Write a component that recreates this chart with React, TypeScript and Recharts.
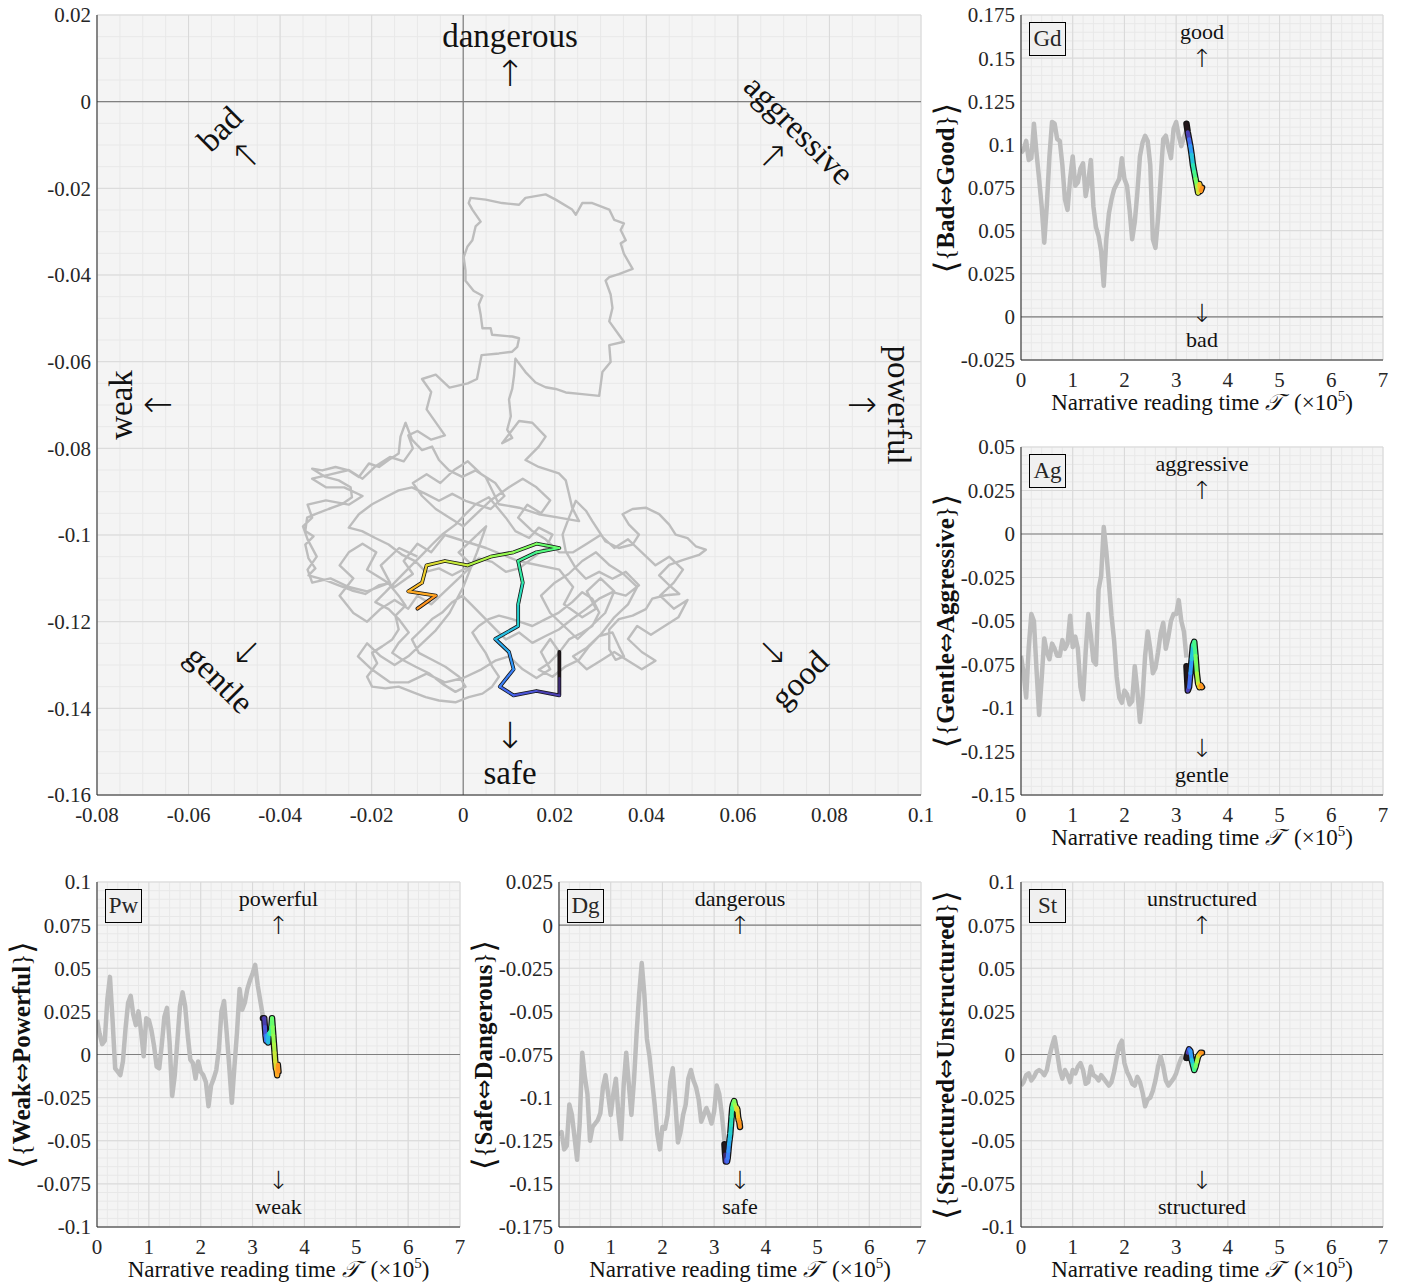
import React from "react";
import {
  LineChart,
  Line,
  XAxis,
  YAxis,
  CartesianGrid,
  ReferenceLine,
} from "recharts";

const FONT = '"Liberation Serif", "Times New Roman", "DejaVu Serif", serif';
const SYM = '"DejaVu Sans", "DejaVu Serif", sans-serif';
const INK = "#262626";
const GRAY = "#bdbdbd";

// narrative time sampling (x10^5)
const GRAY_STEP = 0.05;
const COLOR_SPAN: [number, number] = [3.2, 3.5];

// <Bad <=> Good>
const GD_GRAY = [
  0.095, 0.097, 0.102, 0.091, 0.092, 0.112, 0.095, 0.08, 0.064, 0.043,
  0.065, 0.093, 0.113, 0.112, 0.103, 0.102, 0.088, 0.068, 0.062, 0.08,
  0.093, 0.076, 0.078, 0.086, 0.089, 0.07, 0.078, 0.091, 0.064, 0.052,
  0.047, 0.038, 0.018, 0.045, 0.06, 0.068, 0.074, 0.077, 0.08, 0.092,
  0.08, 0.076, 0.062, 0.045, 0.055, 0.072, 0.093, 0.101, 0.105, 0.102,
  0.088, 0.045, 0.04, 0.057, 0.08, 0.103, 0.105, 0.098, 0.092, 0.109,
  0.113, 0.105, 0.099, 0.104, 0.108,
];
const GD_COLOR = [0.112, 0.107, 0.103, 0.099, 0.094, 0.088, 0.084, 0.08, 0.076, 0.072, 0.077, 0.073, 0.075];

// <Gentle <=> Aggressive>
const AG_GRAY = [
  -0.07, -0.08, -0.094, -0.065, -0.046, -0.05, -0.078, -0.104, -0.083, -0.06,
  -0.068, -0.072, -0.063, -0.066, -0.07, -0.07, -0.061, -0.066, -0.063, -0.047,
  -0.065, -0.059, -0.066, -0.088, -0.095, -0.068, -0.046, -0.058, -0.073, -0.075,
  -0.032, -0.024, 0.004, -0.01, -0.028, -0.047, -0.061, -0.082, -0.094, -0.097,
  -0.09, -0.092, -0.098, -0.096, -0.076, -0.09, -0.108, -0.094, -0.07, -0.056,
  -0.066, -0.08, -0.077, -0.068, -0.057, -0.051, -0.066, -0.059, -0.05, -0.046,
  -0.046, -0.038, -0.05, -0.056, -0.071,
];
const AG_COLOR = [-0.076, -0.09, -0.088, -0.08, -0.072, -0.064, -0.062, -0.07, -0.08, -0.086, -0.088, -0.087, -0.088];

// <Weak <=> Powerful>
const PW_GRAY = [
  0.02, 0.012, 0.006, 0.008, 0.032, 0.045, 0.02, -0.008, -0.01, -0.012,
  -0.004, 0.015, 0.03, 0.034, 0.023, 0.017, 0.025, 0.013, -0.001, 0.021,
  0.02, 0.014, 0.005, -0.007, -0.008, 0.006, 0.022, 0.027, 0.007, -0.024,
  -0.012, 0.008, 0.028, 0.036, 0.028, 0.011, -0.003, -0.005, -0.014, -0.004,
  -0.01, -0.012, -0.016, -0.03, -0.018, -0.014, -0.009, 0.003, 0.025, 0.031,
  0.013, -0.007, -0.028, -0.007, 0.013, 0.038, 0.026, 0.03, 0.038, 0.043,
  0.047, 0.052, 0.04, 0.031, 0.022,
];
const PW_COLOR = [
  0.021, 0.021, 0.021, 0.016, 0.011, 0.008, 0.011, 0.01, 0.007, 0.012, 0.012, 0.013, 0.012,
  0.016, 0.021, 0.016, 0.011, 0.006, 0.001, -0.004, -0.008, -0.009, -0.012, -0.006, -0.01,
];

// <Safe <=> Dangerous>
const DG_GRAY = [
  -0.122, -0.12, -0.13, -0.128, -0.104, -0.11, -0.123, -0.136, -0.115, -0.074,
  -0.088, -0.098, -0.125, -0.117, -0.115, -0.113, -0.109, -0.094, -0.087, -0.098,
  -0.11, -0.098, -0.089, -0.11, -0.124, -0.093, -0.074, -0.092, -0.11, -0.09,
  -0.063, -0.04, -0.022, -0.04, -0.066, -0.076, -0.09, -0.104, -0.121, -0.13,
  -0.117, -0.118, -0.11, -0.091, -0.083, -0.103, -0.126, -0.12, -0.11, -0.104,
  -0.089, -0.084, -0.09, -0.094, -0.101, -0.114, -0.11, -0.106, -0.11, -0.115,
  -0.108, -0.093, -0.098, -0.11, -0.125,
];
const DG_COLOR = [
  -0.127, -0.133, -0.137, -0.136, -0.137, -0.135, -0.131, -0.127, -0.124, -0.121, -0.116, -0.111, -0.106,
  -0.104, -0.103, -0.102, -0.104, -0.105, -0.107, -0.106, -0.107, -0.111, -0.113, -0.114, -0.117,
];

// <Structured <=> Unstructured>
const ST_GRAY = [
  -0.018, -0.016, -0.012, -0.011, -0.015, -0.013, -0.01, -0.009, -0.01, -0.012,
  -0.009, -0.001, 0.005, 0.01, 0.001, -0.009, -0.014, -0.009, -0.012, -0.016,
  -0.009, -0.011, -0.007, -0.005, -0.009, -0.017, -0.016, -0.007, -0.012, -0.013,
  -0.015, -0.012, -0.014, -0.016, -0.018, -0.016, -0.01, -0.002, 0.005, 0.008,
  -0.005, -0.01, -0.013, -0.017, -0.018, -0.013, -0.016, -0.022, -0.03, -0.026,
  -0.025, -0.021, -0.015, -0.007, -0.001, -0.007, -0.015, -0.018, -0.016, -0.014,
  -0.011, -0.006, -0.002, -0.001, -0.001,
];
const ST_COLOR = [-0.002, 0.001, 0.003, 0.002, -0.003, -0.006, -0.009, -0.007, -0.004, -0.001, 0, 0.001, 0.001];

// trajectory in the (Weak<=>Powerful, Safe<=>Dangerous) plane
const TRAJ: [number, number][] = [
  [-0.01, -0.105], [-0.014, -0.103], [-0.018, -0.107], [-0.016, -0.111], [-0.021, -0.113], [-0.025, -0.112],
  [-0.029, -0.11], [-0.033, -0.111], [-0.034, -0.108], [-0.032, -0.105], [-0.034, -0.101], [-0.035, -0.098],
  [-0.033, -0.096], [-0.034, -0.093], [-0.03, -0.092], [-0.025, -0.093], [-0.022, -0.091], [-0.026, -0.089],
  [-0.03, -0.089], [-0.033, -0.087], [-0.029, -0.086], [-0.025, -0.085], [-0.022, -0.087], [-0.019, -0.084],
  [-0.016, -0.082], [-0.013, -0.083], [-0.011, -0.08], [-0.012, -0.077], [-0.01, -0.076], [-0.007, -0.078],
  [-0.004, -0.077], [-0.006, -0.074], [-0.008, -0.071], [-0.007, -0.067], [-0.009, -0.064], [-0.006, -0.063],
  [-0.003, -0.066], [0.001, -0.065], [0.003, -0.064], [0.004, -0.0585], [0.0078, -0.0581], [0.0107, -0.0577],
  [0.0118, -0.0566], [0.0122, -0.0546], [0.0107, -0.0542], [0.0063, -0.0538], [0.006, -0.0523], [0.0042, -0.0523],
  [0.0038, -0.0491], [0.0034, -0.0468], [0.0042, -0.0448], [0.0023, -0.0437], [0.0005, -0.0413], [0.0005, -0.039],
  [0.0001, -0.0359], [0.0009, -0.0335], [0.002, -0.032], [0.0027, -0.0288], [0.0038, -0.0277], [0.002, -0.0249],
  [0.0012, -0.0234], [0.0016, -0.0222], [0.0049, -0.0226], [0.0085, -0.0234], [0.0122, -0.0238], [0.0136, -0.0222],
  [0.018, -0.0214], [0.0202, -0.0226], [0.0238, -0.0249], [0.0246, -0.0261], [0.026, -0.0234], [0.0282, -0.0234],
  [0.0319, -0.0249], [0.033, -0.0273], [0.0351, -0.0281], [0.0344, -0.0296], [0.0355, -0.032], [0.0344, -0.0327],
  [0.0351, -0.0351], [0.037, -0.0386], [0.034, -0.0398], [0.0319, -0.0405], [0.0311, -0.0413], [0.0322, -0.0445],
  [0.0326, -0.0476], [0.0319, -0.0507], [0.034, -0.0538], [0.0351, -0.0554], [0.0319, -0.0562], [0.0322, -0.0601],
  [0.0304, -0.0624], [0.0297, -0.0679], [0.026, -0.0675], [0.0224, -0.0671], [0.0202, -0.0663], [0.018, -0.0659],
  [0.0158, -0.0648], [0.0136, -0.0624], [0.0114, -0.0593], [0.0111, -0.0632], [0.0107, -0.0663], [0.01, -0.0687],
  [0.0104, -0.0726], [0.0096, -0.0757], [0.0107, -0.0776], [0.0085, -0.0788], [0.0122, -0.0737], [0.0151, -0.0741],
  [0.018, -0.0773], [0.0165, -0.0796], [0.0136, -0.0827], [0.0165, -0.0843], [0.0209, -0.0858], [0.0224, -0.0874],
  [0.0231, -0.0905], [0.0238, -0.0937], [0.0253, -0.0968], [0.0209, -0.096], [0.0165, -0.0952], [0.0122, -0.0937],
  [0.0078, -0.0929], [0.0049, -0.0866], [0.0027, -0.0851], [-0.0002, -0.0866], [-0.0031, -0.0851], [-0.0053, -0.0827],
  [-0.0068, -0.0796], [-0.009, -0.0804], [-0.0112, -0.078], [-0.0126, -0.0741], [-0.0137, -0.0773], [-0.0141, -0.0812],
  [-0.0163, -0.0827], [-0.0184, -0.0843], [-0.0206, -0.0835], [-0.0228, -0.0866], [-0.025, -0.0851], [-0.0279, -0.0843],
  [-0.0308, -0.0851], [-0.033, -0.0847], [-0.0301, -0.0866], [-0.0272, -0.0874], [-0.0246, -0.089], [-0.0243, -0.0913],
  [-0.0265, -0.0929], [-0.0294, -0.094], [-0.0323, -0.0952], [-0.0341, -0.096], [-0.0345, -0.0991], [-0.0327, -0.1003],
  [-0.0345, -0.1022], [-0.0338, -0.1054], [-0.0323, -0.1077], [-0.0338, -0.1093], [-0.0301, -0.1104], [-0.0272, -0.1116],
  [-0.0243, -0.1128], [-0.0214, -0.1136], [-0.0184, -0.1116], [-0.0163, -0.1112], [-0.0141, -0.114], [-0.0126, -0.1163],
  [-0.0148, -0.1186], [-0.0141, -0.1218], [-0.0155, -0.1241], [-0.0177, -0.1257], [-0.0199, -0.1272], [-0.0188, -0.1296],
  [-0.021, -0.1327], [-0.0199, -0.135], [-0.017, -0.1354], [-0.0141, -0.135], [-0.0112, -0.1362], [-0.0082, -0.1374],
  [-0.0053, -0.1382], [-0.0017, -0.1386], [0.0012, -0.1374], [0.0042, -0.1366], [0.0063, -0.135], [0.0078, -0.1327],
  [0.0063, -0.1303], [0.0049, -0.1272], [0.0034, -0.1249], [0.002, -0.1225], [0.0034, -0.121], [0.0056, -0.1194],
  [0.0078, -0.1186], [0.0107, -0.1194], [0.0151, -0.121], [0.018, -0.1194], [0.0209, -0.1179], [0.0238, -0.1155],
  [0.026, -0.1132], [0.0282, -0.1147], [0.0297, -0.1179], [0.0282, -0.121], [0.026, -0.1225], [0.0231, -0.1241],
  [0.0209, -0.1272], [0.0187, -0.1296], [0.0165, -0.1311], [0.0195, -0.1327], [0.0224, -0.1303], [0.0253, -0.1288],
  [0.0275, -0.1257], [0.0297, -0.1233], [0.0326, -0.1225], [0.034, -0.1257], [0.0351, -0.128], [0.0333, -0.1288],
  [0.0319, -0.1264], [0.0319, -0.1218], [0.034, -0.1194], [0.037, -0.1186], [0.0399, -0.1171], [0.0413, -0.1147],
  [0.0442, -0.1139], [0.0472, -0.1136], [0.045, -0.1116], [0.0428, -0.1093], [0.045, -0.1069], [0.0479, -0.1058],
  [0.0515, -0.1046], [0.053, -0.1034], [0.0508, -0.1026], [0.049, -0.1007], [0.0464, -0.0999], [0.045, -0.0976],
  [0.0428, -0.0952], [0.0399, -0.0937], [0.037, -0.094], [0.0348, -0.0952], [0.0362, -0.0976], [0.0384, -0.0999],
  [0.037, -0.1022], [0.034, -0.103], [0.0311, -0.1015], [0.0282, -0.0968], [0.0268, -0.0944], [0.0246, -0.0921],
  [0.0231, -0.096], [0.0217, -0.0999], [0.0224, -0.1038], [0.0246, -0.1077], [0.0268, -0.1101], [0.0297, -0.1085],
  [0.0326, -0.1101], [0.0355, -0.1085], [0.0384, -0.1116], [0.0355, -0.114], [0.0326, -0.1132], [0.0297, -0.1147],
  [0.0268, -0.1171], [0.0238, -0.1194], [0.0209, -0.1218], [0.018, -0.1233], [0.0151, -0.1249], [0.0122, -0.1225],
  [0.0093, -0.1241], [0.0071, -0.1218], [0.0049, -0.1194], [0.002, -0.1163], [-0.0002, -0.114], [-0.0024, -0.1155],
  [-0.0046, -0.1179], [-0.0068, -0.1194], [-0.009, -0.1218], [-0.0112, -0.1241], [-0.0097, -0.1272], [-0.0068, -0.1288],
  [-0.0039, -0.1304], [-0.0009, -0.1327], [0.0005, -0.135], [-0.0017, -0.1362], [-0.0046, -0.1343], [-0.0075, -0.1319],
  [-0.0104, -0.1304], [-0.0133, -0.1288], [-0.0155, -0.1272], [-0.0141, -0.1249], [-0.0119, -0.1225], [-0.0141, -0.1194],
  [-0.0163, -0.1171], [-0.0192, -0.1155], [-0.017, -0.1132], [-0.0141, -0.11], [-0.0112, -0.1069], [-0.009, -0.1046],
  [-0.0068, -0.1022], [-0.0046, -0.0999], [-0.0017, -0.0976], [0.0005, -0.0952], [0.0027, -0.0929], [0.0056, -0.0913],
  [0.0093, -0.096], [0.0114, -0.0991], [0.0144, -0.1007], [0.0165, -0.0983], [0.0195, -0.0999], [0.018, -0.103],
  [0.0151, -0.1054], [0.0122, -0.1077], [0.0093, -0.1085], [0.0063, -0.1062], [0.0034, -0.1054], [0.0005, -0.1077],
  [-0.0024, -0.1093], [-0.0053, -0.1077], [-0.0082, -0.1085], [-0.0104, -0.1061], [-0.0133, -0.1046], [-0.0163, -0.1022],
  [-0.0192, -0.1007], [-0.0221, -0.0991], [-0.025, -0.0983], [-0.0228, -0.0952], [-0.0199, -0.0929], [-0.017, -0.0913],
  [-0.0141, -0.0897], [-0.0112, -0.089], [-0.0082, -0.0905], [-0.0053, -0.0921], [-0.0024, -0.0905], [0.0005, -0.0921],
  [0.006, -0.094], [0.009, -0.091], [0.007, -0.088], [0.004, -0.086], [0.001, -0.083], [-0.002, -0.085],
  [-0.005, -0.088], [-0.008, -0.086], [-0.011, -0.088], [-0.009, -0.091], [-0.006, -0.094], [-0.003, -0.096],
  [0.0, -0.098], [0.003, -0.095], [0.006, -0.092], [0.01, -0.089], [0.013, -0.087], [0.016, -0.089],
  [0.019, -0.092], [0.017, -0.095], [0.014, -0.093], [0.012, -0.096], [0.015, -0.099], [0.018, -0.101],
  [0.021, -0.104], [0.024, -0.104], [0.027, -0.102], [0.03, -0.1], [0.033, -0.103], [0.036, -0.101],
  [0.039, -0.104], [0.042, -0.107], [0.045, -0.105], [0.048, -0.108], [0.046, -0.111], [0.043, -0.114],
  [0.046, -0.117], [0.049, -0.115], [0.047, -0.119], [0.044, -0.121], [0.041, -0.123], [0.038, -0.121],
  [0.036, -0.124], [0.039, -0.127], [0.042, -0.129], [0.039, -0.131], [0.036, -0.129], [0.033, -0.127],
  [0.03, -0.129], [0.027, -0.131], [0.024, -0.128], [0.027, -0.126], [0.03, -0.123], [0.033, -0.119],
  [0.036, -0.116], [0.038, -0.112], [0.035, -0.109], [0.032, -0.107], [0.029, -0.104], [0.026, -0.106],
  [0.023, -0.109], [0.02, -0.111], [0.017, -0.114], [0.019, -0.118], [0.022, -0.121], [0.025, -0.124],
  [0.028, -0.121], [0.031, -0.118], [0.033, -0.113], [0.03, -0.11], [0.027, -0.113], [0.029, -0.117],
  [0.026, -0.119], [0.022, -0.116], [0.024, -0.112], [0.021, -0.108], [0.012, -0.106], [0.005, -0.103],
  [-0.004, -0.1], [-0.007, -0.104], [-0.01, -0.102], [-0.013, -0.106], [-0.011, -0.109], [-0.015, -0.112],
  [-0.018, -0.11], [-0.021, -0.108], [-0.019, -0.104], [-0.022, -0.102], [-0.025, -0.104], [-0.027, -0.107],
  [-0.024, -0.11], [-0.027, -0.114], [-0.024, -0.118], [-0.021, -0.12], [-0.018, -0.117], [-0.015, -0.115],
  [-0.012, -0.117], [-0.01, -0.114], [-0.007, -0.116], [-0.004, -0.113], [-0.001, -0.11], [0.002, -0.107],
  [-0.001, -0.104], [0.002, -0.101], [0.005, -0.098], [0.003, -0.104], [0.0, -0.112], [-0.003, -0.118],
  [-0.006, -0.122], [-0.009, -0.125], [-0.012, -0.128], [-0.015, -0.13], [-0.018, -0.128], [-0.021, -0.125],
  [-0.023, -0.128], [-0.02, -0.131], [-0.016, -0.134], [-0.012, -0.134], [-0.008, -0.132], [-0.004, -0.134],
  [0.0, -0.133], [0.004, -0.131], [0.007, -0.129], [0.01, -0.128], [0.013, -0.131], [0.016, -0.133],
  [0.019, -0.131], [0.017, -0.127], [0.019, -0.124], [0.021, -0.127],
];

const TIME_TICKS = [0, 1, 2, 3, 4, 5, 6, 7];
const MAIN_X_TICKS = [-0.08, -0.06, -0.04, -0.02, 0, 0.02, 0.04, 0.06, 0.08, 0.1];
const MAIN_Y_TICKS = [0.02, 0, -0.02, -0.04, -0.06, -0.08, -0.1, -0.12, -0.14, -0.16];
const GD_TICKS = [0.175, 0.15, 0.125, 0.1, 0.075, 0.05, 0.025, 0, -0.025];
const AG_TICKS = [0.05, 0.025, 0, -0.025, -0.05, -0.075, -0.1, -0.125, -0.15];
const PW_TICKS = [0.1, 0.075, 0.05, 0.025, 0, -0.025, -0.05, -0.075, -0.1];
const DG_TICKS = [0.025, 0, -0.025, -0.05, -0.075, -0.1, -0.125, -0.15, -0.175];
const ST_TICKS = PW_TICKS;

// grid positions (not data)
const steps = (a: number, b: number, s: number) => {
  const out: number[] = [];
  const n = Math.round((b - a) / s);
  for (let i = 0; i <= n; i++) out.push(+(a + i * s).toFixed(4));
  return out;
};

// turbo colormap (polynomial fit)
function turbo(t: number) {
  const r = 0.13572138 + t * (4.6153926 + t * (-42.66032258 + t * (132.13108234 + t * (-152.94239396 + t * 59.28637943))));
  const g = 0.09140261 + t * (2.19418839 + t * (4.84296658 + t * (-14.18503333 + t * (4.27729857 + t * 2.82956604))));
  const b = 0.1066733 + t * (12.64194608 + t * (-60.58204836 + t * (110.36276771 + t * (-89.90310912 + t * 27.34824973))));
  const c = (v: number) => Math.round(255 * Math.min(1, Math.max(0, v)));
  return `rgb(${c(r)},${c(g)},${c(b)})`;
}

type Row = { x: number; y: number };
const timeRows = (ys: number[]): Row[] => ys.map((y, i) => ({ x: +(i * GRAY_STEP).toFixed(3), y }));
const colorRows = (ys: number[]): Row[] => {
  const dt = (COLOR_SPAN[1] - COLOR_SPAN[0]) / (ys.length - 1);
  return ys.map((y, i) => ({ x: +(COLOR_SPAN[0] + i * dt).toFixed(4), y }));
};
const pairRows = (xs: number[], ys: number[]): Row[] => xs.map((x, i) => ({ x, y: ys[i] }));

function traces(gray: Row[], color: Row[], gw: number, ow: number, cw: number) {
  const segs = color.slice(0, -1).map((r, i) => [r, color[i + 1]]);
  return [
    <Line key="g" data={gray} dataKey="y" stroke={GRAY} strokeWidth={gw} dot={false}
      activeDot={false} isAnimationActive={false} strokeLinejoin="round" />,
    <Line key="o" data={color} dataKey="y" stroke="#141414" strokeWidth={ow} dot={false}
      activeDot={false} isAnimationActive={false} strokeLinejoin="round" strokeLinecap="round" />,
    ...segs.map((s, i) => (
      <Line key={"c" + i} data={s} dataKey="y" stroke={turbo((i / Math.max(1, segs.length - 1)) * 0.72)}
        strokeWidth={cw} dot={false} activeDot={false} isAnimationActive={false} strokeLinecap="round" />
    )),
  ];
}

const YW = 80;
const PAD = 12;
const XH = 40;
const tickStyle = { fill: INK, fontSize: 21, fontFamily: FONT };
const axisLine = { stroke: INK, strokeWidth: 1 };

function Frame(props: {
  x: number; y: number; w: number; h: number;
  xDomain: [number, number]; yDomain: [number, number];
  xTicks: number[]; yTicks: number[]; xMinor: number[]; yMinor: number[];
  zeroX?: boolean; children: React.ReactNode;
}) {
  const { x, y, w, h, xDomain, yDomain, xTicks, yTicks, xMinor, yMinor, zeroX, children } = props;
  return (
    <div style={{ position: "absolute", left: x - YW, top: y - PAD }}>
      <LineChart width={w + YW + PAD} height={h + PAD + XH}
        margin={{ top: PAD, right: PAD, bottom: 0, left: 0 }}>
        <CartesianGrid fill="#f4f4f4" stroke="#e8e8e8" verticalValues={xMinor} horizontalValues={yMinor} />
        <CartesianGrid stroke="#d9d9d9" verticalValues={xTicks} horizontalValues={yTicks} />
        {zeroX && <ReferenceLine x={0} stroke="#808080" strokeWidth={1.2} />}
        <ReferenceLine y={0} stroke="#808080" strokeWidth={1.2} />
        {children}
        <XAxis type="number" dataKey="x" domain={xDomain} ticks={xTicks} interval={0}
          allowDataOverflow height={XH} axisLine={axisLine} tickLine={false} tickMargin={6} tick={tickStyle} />
        <XAxis xAxisId="top" orientation="top" type="number" dataKey="x" domain={xDomain}
          ticks={xTicks} allowDataOverflow height={0} axisLine={axisLine} tick={false} tickLine={false} />
        <YAxis type="number" dataKey="y" domain={yDomain} ticks={yTicks} interval={0}
          allowDataOverflow width={YW} axisLine={axisLine} tickLine={false} tickMargin={0} tick={tickStyle} />
        <YAxis yAxisId="right" orientation="right" type="number" domain={yDomain} ticks={yTicks}
          allowDataOverflow width={0} axisLine={axisLine} tick={false} tickLine={false} />
      </LineChart>
    </div>
  );
}

const UP = "\u2191\uFE0E";
const DOWN = "\u2193\uFE0E";

function Dir({ cx, cy, angle, word, down }: { cx: number; cy: number; angle: number; word: string; down?: boolean }) {
  const w = <span style={{ fontSize: 33, lineHeight: "33px" }}>{word}</span>;
  const a = <span style={{ fontSize: 36, lineHeight: "30px", fontFamily: SYM, fontWeight: 200 }}>{down ? DOWN : UP}</span>;
  return (
    <div style={{
      position: "absolute", left: cx, top: cy, transform: `translate(-50%, -50%) rotate(${angle}deg)`,
      display: "flex", flexDirection: "column", alignItems: "center", gap: 6, color: "#111",
      whiteSpace: "nowrap",
    }}>
      {down ? <>{a}{w}</> : <>{w}{a}</>}
    </div>
  );
}

type PanelDef = {
  tag: string; up: string; dn: string; lo: string; hi: string;
  x: number; y: number; w: number; h: number;
  ticks: number[]; gray: number[]; color: number[];
};

const PANELS: PanelDef[] = [
  { tag: "Gd", up: "good", dn: "bad", lo: "Bad", hi: "Good", x: 1021, y: 15, w: 362, h: 345, ticks: GD_TICKS, gray: GD_GRAY, color: GD_COLOR },
  { tag: "Ag", up: "aggressive", dn: "gentle", lo: "Gentle", hi: "Aggressive", x: 1021, y: 447, w: 362, h: 348, ticks: AG_TICKS, gray: AG_GRAY, color: AG_COLOR },
  { tag: "Pw", up: "powerful", dn: "weak", lo: "Weak", hi: "Powerful", x: 97, y: 882, w: 363, h: 345, ticks: PW_TICKS, gray: PW_GRAY, color: PW_COLOR },
  { tag: "Dg", up: "dangerous", dn: "safe", lo: "Safe", hi: "Dangerous", x: 559, y: 882, w: 362, h: 345, ticks: DG_TICKS, gray: DG_GRAY, color: DG_COLOR },
  { tag: "St", up: "unstructured", dn: "structured", lo: "Structured", hi: "Unstructured", x: 1021, y: 882, w: 362, h: 345, ticks: ST_TICKS, gray: ST_GRAY, color: ST_COLOR },
];

function Panel({ p }: { p: PanelDef }) {
  const yDomain: [number, number] = [p.ticks[p.ticks.length - 1], p.ticks[0]];
  const cx = p.x + p.w / 2;
  const ann: React.CSSProperties = { position: "absolute", transform: "translate(-50%, -50%)", fontSize: 22, whiteSpace: "nowrap", color: "#111" };
  const arrow: React.CSSProperties = { ...ann, fontSize: 25, fontFamily: SYM, fontWeight: 200 };
  const br: React.CSSProperties = { fontSize: 32, fontWeight: 300, verticalAlign: "-3px", fontFamily: SYM };
  return (
    <>
      <Frame x={p.x} y={p.y} w={p.w} h={p.h} xDomain={[0, 7]} yDomain={yDomain}
        xTicks={TIME_TICKS} yTicks={p.ticks} xMinor={steps(0, 7, 0.2)} yMinor={steps(yDomain[0], yDomain[1], 0.005)}>
        {traces(timeRows(p.gray), colorRows(p.color), 4.5, 6.5, 4)}
      </Frame>
      <div style={{
        position: "absolute", left: p.x + 8, top: p.y + 7, width: 35, height: 32, border: "1.6px solid #000",
        background: "#f0f0f0", fontSize: 23, lineHeight: "32px", textAlign: "center",
      }}>{p.tag}</div>
      <div style={{ ...ann, left: cx, top: p.y + 17 }}>{p.up}</div>
      <div style={{ ...arrow, left: cx, top: p.y + 43 }}>{UP}</div>
      <div style={{ ...arrow, left: cx, top: p.y + p.h - 47 }}>{DOWN}</div>
      <div style={{ ...ann, left: cx, top: p.y + p.h - 20 }}>{p.dn}</div>
      <div style={{
        ...ann, left: p.x - 75, top: p.y + p.h / 2, transform: "translate(-50%, -50%) rotate(-90deg)", fontSize: 25,
      }}>
        <span style={br}>{"\u27E8"}</span>{"{"}
        <b>{p.lo}<span style={{ fontFamily: SYM, fontWeight: 400, fontSize: 24 }}>{"\u21D4"}</span>{p.hi}</b>
        {"}"}<span style={br}>{"\u27E9"}</span>
      </div>
      <div style={{ ...ann, left: cx, top: p.y + p.h + 42, fontSize: 23 }}>
        {"Narrative reading time "}<i style={{ marginRight: 11 }}>{"\uD835\uDCAF"}</i>{"(\u00D710"}
        <sup style={{ fontSize: 15 }}>5</sup>{")"}
      </div>
    </>
  );
}

export default function App() {
  const mainGray = pairRows(TRAJ.map((p) => p[0]), TRAJ.map((p) => p[1]));
  const mainColor = pairRows(PW_COLOR, DG_COLOR);
  return (
    <div style={{
      position: "absolute", left: 0, top: 0, width: 1405, height: 1285, background: "#fff",
      fontFamily: FONT, color: INK, overflow: "hidden",
    }}>
      <Frame x={97} y={15} w={824} h={780} xDomain={[-0.08, 0.1]} yDomain={[-0.16, 0.02]}
        xTicks={MAIN_X_TICKS} yTicks={MAIN_Y_TICKS} xMinor={steps(-0.08, 0.1, 0.005)}
        yMinor={steps(-0.16, 0.02, 0.005)} zeroX>
        {traces(mainGray, mainColor, 2.4, 3.8, 2.2)}
      </Frame>
      <Dir cx={510} cy={54} angle={0} word="dangerous" />
      <Dir cx={510} cy={755} angle={0} word="safe" down />
      <Dir cx={233} cy={142} angle={-45} word="bad" />
      <Dir cx={786} cy={143} angle={45} word="aggressive" />
      <Dir cx={139} cy={405} angle={-90} word="weak" />
      <Dir cx={880} cy={405} angle={90} word="powerful" />
      <Dir cx={232} cy={667} angle={45} word="gentle" down />
      <Dir cx={787} cy={667} angle={-45} word="good" down />
      {PANELS.map((p) => <Panel key={p.tag} p={p} />)}
    </div>
  );
}
